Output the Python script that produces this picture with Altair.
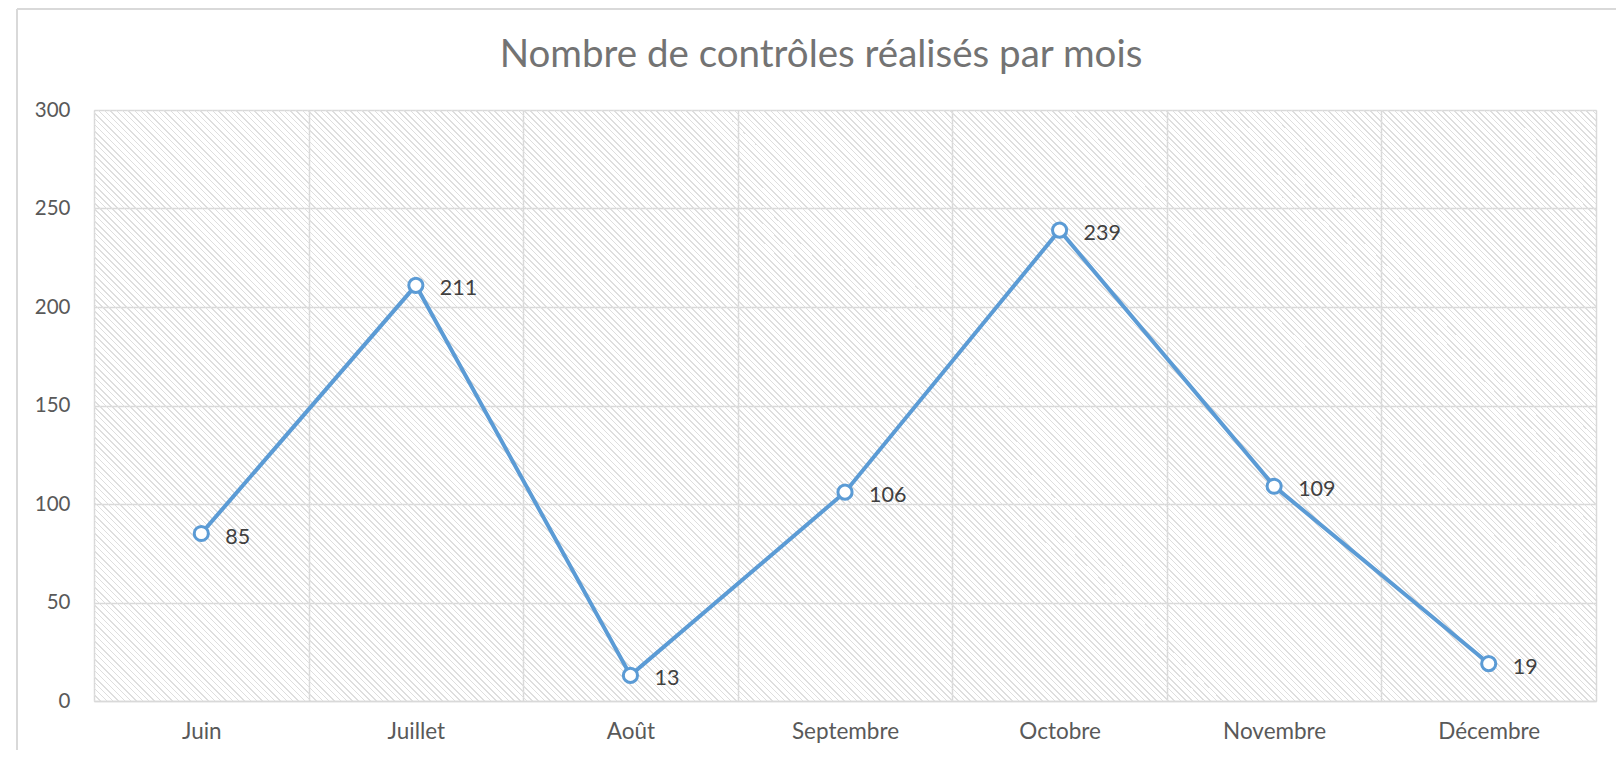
import math
import altair as alt
import pandas as pd

# ---- data ----
months = ["Juin", "Juillet", "Août", "Septembre", "Octobre", "Novembre", "Décembre"]
values = [85, 211, 13, 106, 239, 109, 19]
y_ticks = [0, 50, 100, 150, 200, 250, 300]
title_text = "Nombre de contrôles réalisés par mois"

df = pd.DataFrame({"mois": months, "valeur": values})

# ---- layout ----
W, H = 1502, 591
FONT = "Lato"
BLUE = "#5b9bd5"
GRID = "#d9d9d9"

# diagonal hatch (downward diagonal) as a striped linear gradient,
# horizontal period of exactly 6 px
r = H / W
hperiod = 6
n = math.ceil((W + H) / hperiod)
S = n * hperiod
a = S / (W * (1 + r * r))
f = 0.3
hatch_col = "#dedede"
clear_col = "rgba(222,222,222,0)"
stops = []
for k in range(n):
    o0 = round(k / n, 6)
    o1 = round((k + f) / n, 6)
    o2 = round((k + 1) / n, 6)
    stops += [
        alt.GradientStop(offset=o0, color=hatch_col),
        alt.GradientStop(offset=o1, color=hatch_col),
        alt.GradientStop(offset=o1, color=clear_col),
        alt.GradientStop(offset=o2, color=clear_col),
    ]
hatch = alt.LinearGradient(gradient="linear", stops=stops,
                           x1=0, y1=1, x2=a, y2=1 - a * r)

x_enc = alt.X("mois:N", sort=months, title=None,
              scale=alt.Scale(paddingInner=0, paddingOuter=0),
              axis=alt.Axis(tickBand="extent", grid=True, gridColor=GRID, gridWidth=1.5,
                            domain=True, domainColor=GRID, domainWidth=1.5, ticks=False,
                            labelAngle=0, labelFont=FONT, labelFontSize=22.5,
                            labelColor="#595959", labelPadding=19))
y_enc = alt.Y("valeur:Q", title=None,
              scale=alt.Scale(domain=[0, 300], nice=False),
              axis=alt.Axis(values=y_ticks, grid=True, gridColor=GRID, gridWidth=1.5,
                            domain=False, ticks=False, labelFont=FONT, labelFontSize=20.5,
                            labelColor="#595959", labelPadding=24))

base = alt.Chart(df)

bg = alt.Chart(alt.Data(values=[{"k": 1}])).mark_rect(fill=hatch, strokeWidth=0)

frame_left = alt.Chart(alt.Data(values=[{"k": 1}])).mark_rule(color=GRID, strokeWidth=2).encode(
    x=alt.value(-77), y=alt.value(-101), y2=alt.value(H + 60))
frame_top = alt.Chart(alt.Data(values=[{"k": 1}])).mark_rule(color=GRID, strokeWidth=2).encode(
    x=alt.value(-77), x2=alt.value(W + 30), y=alt.value(-101))

line = base.mark_line(color=BLUE, strokeWidth=4).encode(x=x_enc, y=y_enc)
pts = base.mark_point(shape="circle", filled=True, fill="white", stroke=BLUE,
                      strokeWidth=3, size=200, opacity=1).encode(x=x_enc, y=y_enc)
labels = base.mark_text(align="left", baseline="middle", dx=24, dy=4, font=FONT,
                        fontSize=21.5, color="#404040").encode(
    x=x_enc, y=y_enc, text="valeur:Q")

chart = alt.layer(bg, frame_left, frame_top, line, pts, labels).properties(
    width=W, height=H,
    title=alt.Title(title_text, font=FONT, fontSize=38.5, fontWeight="normal",
                    color="#737373", anchor="middle", offset=-67, dx=-24),
    autosize=alt.AutoSizeParams(type="none"),
    padding={"left": 86, "top": 102, "right": 20, "bottom": 49},
).configure_view(stroke=None).configure(background="white")

chart.save("out.html", embed_options={"renderer": "svg", "actions": False})
